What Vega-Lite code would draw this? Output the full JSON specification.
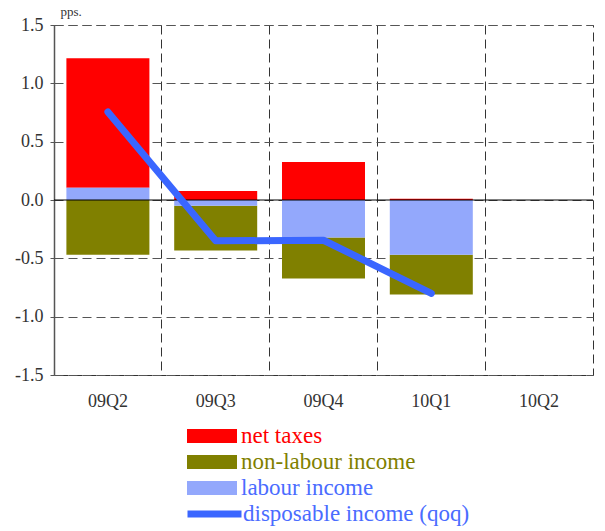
{
  "$schema": "https://vega.github.io/schema/vega-lite/v6.json",
  "width": 539,
  "height": 350,
  "autosize": {"type": "none"},
  "padding": {"left": 54, "top": 25, "right": 12, "bottom": 156},
  "background": "white",
  "config": {
    "view": {"stroke": "#333333", "strokeDash": [9, 5], "strokeWidth": 1},
    "font": "Liberation Serif, Times New Roman, serif"
  },
  "datasets": {
    "bars": [
      {"q": "09Q2", "series": "net taxes", "value": 1.11},
      {"q": "09Q2", "series": "non-labour income", "value": -0.47},
      {"q": "09Q2", "series": "labour income", "value": 0.105},
      {"q": "09Q3", "series": "net taxes", "value": 0.077},
      {"q": "09Q3", "series": "non-labour income", "value": -0.383},
      {"q": "09Q3", "series": "labour income", "value": -0.05},
      {"q": "09Q4", "series": "net taxes", "value": 0.325},
      {"q": "09Q4", "series": "non-labour income", "value": -0.35},
      {"q": "09Q4", "series": "labour income", "value": -0.322},
      {"q": "10Q1", "series": "net taxes", "value": 0.01},
      {"q": "10Q1", "series": "non-labour income", "value": -0.34},
      {"q": "10Q1", "series": "labour income", "value": -0.47}
    ],
    "line": [
      {"q": "09Q2", "series": "disposable income (qoq)", "value": 0.755},
      {"q": "09Q3", "series": "disposable income (qoq)", "value": -0.35},
      {"q": "09Q4", "series": "disposable income (qoq)", "value": -0.345},
      {"q": "10Q1", "series": "disposable income (qoq)", "value": -0.8}
    ]
  },
  "layer": [
    {
      "data": {"name": "bars"},
      "mark": {"type": "bar", "width": {"band": 0.77}},
      "encoding": {
        "x": {
          "field": "q",
          "type": "nominal",
          "scale": {"domain": ["09Q2", "09Q3", "09Q4", "10Q1", "10Q2"], "paddingInner": 0, "paddingOuter": 0},
          "axis": {
            "title": null,
            "labelAngle": 0,
            "domain": false,
            "ticks": false,
            "grid": true,
            "bandPosition": 0,
            "gridColor": "#333333",
            "gridDash": [9, 5],
            "gridWidth": 1,
            "gridOpacity": 1,
            "labelFont": "Liberation Serif, Times New Roman, serif",
            "labelFontSize": 18,
            "labelColor": "#333333",
            "labelPadding": 17
          }
        },
        "y": {
          "field": "value",
          "type": "quantitative",
          "stack": "zero",
          "scale": {"domain": [-1.5, 1.5], "nice": false, "zero": false},
          "axis": {
            "title": "pps.",
            "titleAngle": 0,
            "titleAlign": "left",
            "titleBaseline": "bottom",
            "titleX": 6,
            "titleY": -7,
            "titleFont": "Liberation Serif, Times New Roman, serif",
            "titleFontSize": 13,
            "titleFontWeight": "normal",
            "titleColor": "#333333",
            "values": [-1.5, -1, -0.5, 0, 0.5, 1, 1.5],
            "format": ".1f",
            "labelExpr": "replace(datum.label, '\u2212', '-')",
            "labelFont": "Liberation Serif, Times New Roman, serif",
            "labelFontSize": 18,
            "labelColor": "#333333",
            "labelPadding": 7,
            "tickSize": 4,
            "tickColor": "#555555",
            "domainColor": "#555555",
            "domainWidth": 1.5,
            "grid": true,
            "gridColor": "#555555",
            "gridDash": [9, 5],
            "gridWidth": 1,
            "gridOpacity": 1
          }
        },
        "fill": {
          "field": "series",
          "type": "nominal",
          "scale": {
            "domain": ["net taxes", "non-labour income", "labour income"],
            "range": ["#ff0000", "#808000", "#93a8fc"]
          },
          "legend": {
            "title": null,
            "orient": "none",
            "legendX": 133,
            "legendY": 398,
            "symbolType": "M-1,-0.28H1V0.28H-1Z",
            "symbolSize": 2500,
            "symbolStrokeWidth": 0,
            "clipHeight": 26,
            "rowPadding": 0,
            "labelOffset": 4,
            "labelFont": "Liberation Serif, Times New Roman, serif",
            "labelFontSize": 23,
            "labelLimit": 400,
            "labelColor": {"expr": "datum.label === 'net taxes' ? '#ff0000' : datum.label === 'non-labour income' ? '#808000' : '#4a6cff'"}
          }
        },
        "order": {"field": "series", "sort": "ascending"}
      }
    },
    {
      "data": {"values": [{}]},
      "mark": {"type": "rule", "color": "#000000", "strokeWidth": 1},
      "encoding": {"y": {"datum": 0}}
    },
    {
      "data": {"name": "line"},
      "mark": {"type": "line", "strokeWidth": 7, "strokeCap": "round", "strokeJoin": "round"},
      "encoding": {
        "x": {"field": "q", "type": "nominal"},
        "y": {"field": "value", "type": "quantitative"},
        "stroke": {
          "field": "series",
          "type": "nominal",
          "scale": {"domain": ["disposable income (qoq)"], "range": ["#3a66ff"]},
          "legend": {
            "title": null,
            "orient": "none",
            "legendX": 130,
            "legendY": 476,
            "symbolType": "stroke",
            "symbolSize": 2916,
            "symbolStrokeWidth": 7,
            "clipHeight": 26,
            "labelOffset": -2,
            "labelFont": "Liberation Serif, Times New Roman, serif",
            "labelFontSize": 23,
            "labelLimit": 400,
            "labelColor": "#4a6cff"
          }
        }
      }
    }
  ]
}
